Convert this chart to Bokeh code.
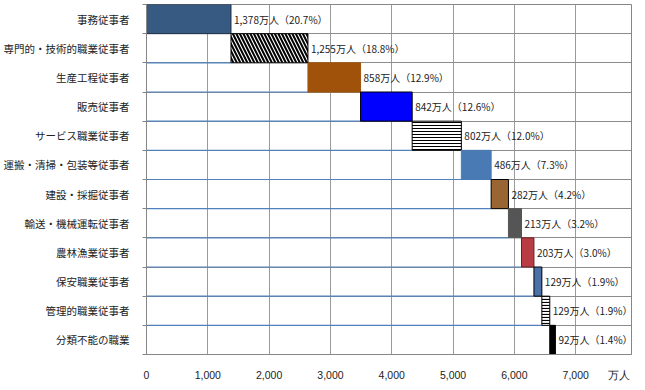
import numpy as np
from bokeh.plotting import figure
from bokeh.models import Range1d, FixedTicker, ColumnDataSource
from bokeh.core.properties import value
from bokeh.embed import file_html
from bokeh.resources import INLINE

# ---- data ----
categories = ["事務従事者", "専門的・技術的職業従事者", "生産工程従事者", "販売従事者",
              "サービス職業従事者", "運搬・清掃・包装等従事者", "建設・採掘従事者",
              "輸送・機械運転従事者", "農林漁業従事者", "保安職業従事者",
              "管理的職業従事者", "分類不能の職業"]
values = [1378, 1255, 858, 842, 802, 486, 282, 213, 203, 129, 129, 92]
shares = [20.7, 18.8, 12.9, 12.6, 12.0, 7.3, 4.2, 3.2, 3.0, 1.9, 1.9, 1.4]
x_ticks = [0, 1000, 2000, 3000, 4000, 5000, 6000, 7000]
x_tick_labels = ["0", "1,000", "2,000", "3,000", "4,000", "5,000", "6,000", "7,000"]
unit_label = "万人"
unit_pos = 7700  # where the unit label sits on the value axis
x_max = 7910

# ---- styles ----
fills = ["#375a83", "white", "#a0520a", "#0000ff", "white", "#4a7ab4",
         "#996633", "#555555", "#b83c44", "#4a72a8", "white", "#000000"]
lines = ["#1f2f45", "black", None, "black", "black", None,
         "black", None, "#6a1f25", "black", "black", "black"]
hatches = [" ", "\\", " ", " ", "-", " ", " ", " ", " ", " ", "-", " "]
hatch_scales = [6, 7, 6, 6, 3, 6, 6, 6, 6, 6, 3, 6]
hatch_weights = [1, 2, 1, 1, 1, 1, 1, 1, 1, 1, 1.2, 1]
FONT = "Noto Sans CJK JP"
NUM_FONT = "Liberation Sans"

n = len(categories)
vals = np.array(values, dtype=float)
ends = np.cumsum(vals)
starts = ends - vals
ys = np.arange(n) + 0.5
labels = [f"{v:,}万人（{s:.1f}%）" for v, s in zip(values, shares)]

src = ColumnDataSource(dict(
    y=ys, left=starts, right=ends, fill=fills,
    line=[c if c else f for c, f in zip(lines, fills)],
    hatch=hatches, hs=hatch_scales, hw=hatch_weights, label=labels,
))

p = figure(frame_width=485, frame_height=350, output_backend="svg", toolbar_location=None,
           x_range=Range1d(0, x_max), y_range=Range1d(n, 0),
           min_border_left=143, min_border_right=1, min_border_top=4, min_border_bottom=20)
p.background_fill_color = "white"
p.border_fill_color = "white"
p.outline_line_color = "#868686"
p.outline_line_width = 1

# grids
p.xaxis.ticker = FixedTicker(ticks=x_ticks + [unit_pos])
p.xgrid.ticker = FixedTicker(ticks=x_ticks)
p.xgrid.grid_line_color = "#9a9a9a"
p.xgrid.grid_line_width = 1
p.yaxis.ticker = FixedTicker(ticks=list(ys), minor_ticks=list(range(n + 1)))
p.ygrid.grid_line_color = None
p.ygrid.minor_grid_line_color = "#8c8c8c"

# blue edges of invisible base bars
p.segment(x0=0, x1=starts[1:], y0=np.arange(1, n) + 1, y1=np.arange(1, n) + 1,
          line_color="#4f81bd", line_width=1.2)

# bars
p.hbar(y="y", left="left", right="right", height=1.0, source=src,
       fill_color="fill", line_color="line", line_width=1,
       hatch_pattern="hatch", hatch_color="black", hatch_scale="hs", hatch_weight="hw")

# labels
p.text(x="right", y="y", text="label", source=src, x_offset=3,
       text_font=value(FONT), text_font_size="10px", text_color="#222222",
       text_baseline="middle", text_align="left")

# axes
overrides = {float(t): l for t, l in zip(x_ticks, x_tick_labels)}
overrides[float(unit_pos)] = unit_label
p.xaxis.major_label_overrides = overrides
p.xaxis.major_tick_line_color = None
p.xaxis.minor_tick_line_color = None
p.xaxis.axis_line_color = "#868686"
p.xaxis.major_label_standoff = 8
p.xaxis.major_label_text_font = NUM_FONT
p.xaxis.major_label_text_font_size = "10.5px"
p.xaxis.major_label_text_color = "#222222"

p.yaxis.major_label_overrides = {float(y): c for y, c in zip(ys, categories)}
p.yaxis.major_tick_line_color = None
p.yaxis.minor_tick_line_color = "#868686"
p.yaxis.minor_tick_out = 4
p.yaxis.minor_tick_in = 0
p.yaxis.axis_line_color = "#868686"
p.yaxis.major_label_standoff = 11
p.yaxis.major_label_text_font = FONT
p.yaxis.major_label_text_font_size = "10.5px"
p.yaxis.major_label_text_color = "#222222"

open("out.html", "w").write(file_html(p, INLINE))
